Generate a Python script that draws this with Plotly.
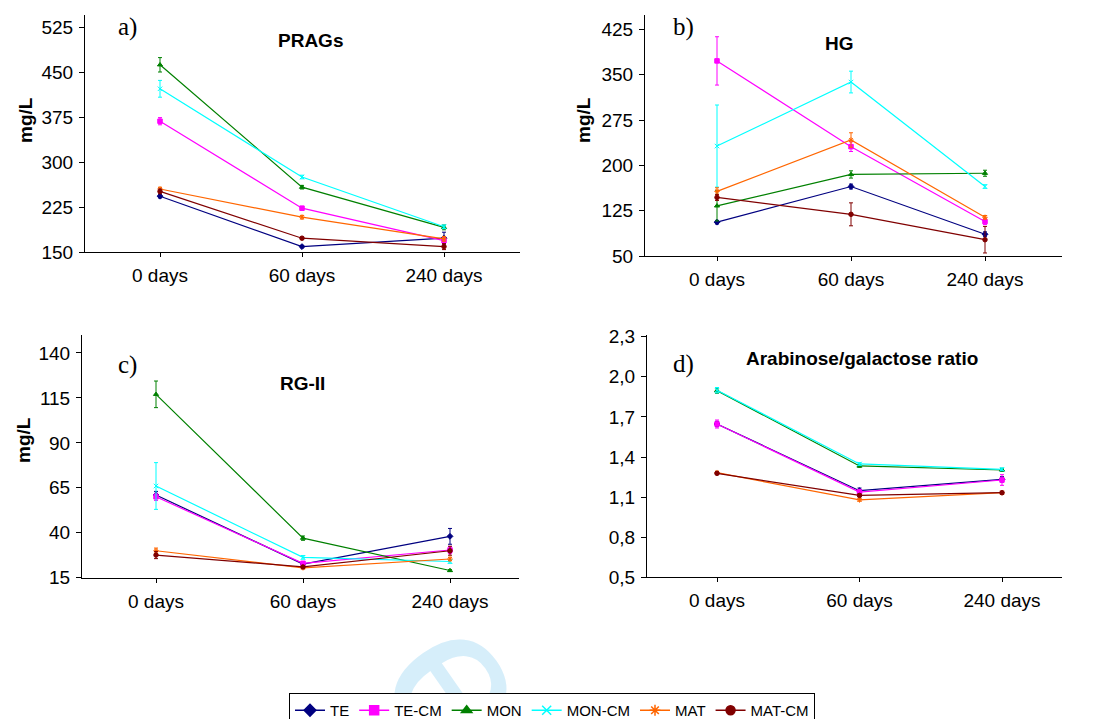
import plotly.graph_objects as go

W, H = 1094, 719
OFF = 8  # the page's body margin shifts the figure 8px right and down

categories = ["0 days", "60 days", "240 days"]
series = ["TE", "TE-CM", "MON", "MON-CM", "MAT", "MAT-CM"]

# Panel a) PRAGs (mg/L)
prags_TE = [243, 159, 173]
prags_TECM = [368, 223, 169]
prags_MON = [462, 258, 191]
prags_MONCM = [422, 275, 192]
prags_MAT = [255, 208, 172]
prags_MATCM = [251, 173, 159]
prags_err_TE = [3, 2, 10]
prags_err_TECM = [6, 3, 5]
prags_err_MON = [12, 3, 4]
prags_err_MONCM = [14, 3, 3]
prags_err_MAT = [3, 3, 4]
prags_err_MATCM = [4, 2, 5]

# Panel b) HG (mg/L)
hg_TE = [106, 165, 86]
hg_TECM = [373, 231, 107]
hg_MON = [133, 185, 187]
hg_MONCM = [232, 338, 165]
hg_MAT = [157, 242, 114]
hg_MATCM = [147, 119, 77]
hg_err_TE = [3, 4, 4]
hg_err_TECM = [40, 8, 5]
hg_err_MON = [25, 6, 5]
hg_err_MONCM = [68, 18, 3]
hg_err_MAT = [6, 12, 3]
hg_err_MATCM = [5, 19, 22]

# Panel c) RG-II (mg/L)
rg_TE = [61, 22.6, 38]
rg_TECM = [60, 23, 30.4]
rg_MON = [117, 37, 19]
rg_MONCM = [66, 26.3, 24]
rg_MAT = [30, 20.5, 25.4]
rg_MATCM = [27.6, 21, 30]
rg_err_TE = [2, 1, 4.4]
rg_err_TECM = [2, 1, 2]
rg_err_MON = [7.4, 1.2, 0.5]
rg_err_MONCM = [13, 1, 1]
rg_err_MAT = [1.5, 0.5, 1]
rg_err_MATCM = [2, 0.5, 2.5]

# Panel d) Arabinose/galactose ratio
ag_TE = [1.647, 1.148, 1.233]
ag_TECM = [1.647, 1.138, 1.228]
ag_MON = [1.897, 1.333, 1.303]
ag_MONCM = [1.90, 1.348, 1.308]
ag_MAT = [1.283, 1.079, 1.133]
ag_MATCM = [1.278, 1.113, 1.133]
ag_err_TE = [0.02, 0.02, 0.02]
ag_err_TECM = [0.03, 0.02, 0.04]
ag_err_MON = [0.02, 0.01, 0.01]
ag_err_MONCM = [0.02, 0.01, 0.01]
ag_err_MAT = [0.01, 0.01, 0.01]
ag_err_MATCM = [0.01, 0.01, 0.01]

ticks_a = [150, 225, 300, 375, 450, 525]
ticks_b = [50, 125, 200, 275, 350, 425]
ticks_c = [15, 40, 65, 90, 115, 140]
ticks_d = [0.5, 0.8, 1.1, 1.4, 1.7, 2.0, 2.3]
ticks_d_text = ["0,5", "0,8", "1,1", "1,4", "1,7", "2,0", "2,3"]

colors = ["#000080", "#FF00FF", "#008000", "#00FFFF", "#FF6600", "#800000"]
symbols = ["diamond", "square", "triangle-up", "x-thin-open", "asterisk-open", "circle"]

panels = [
    ([prags_TE, prags_TECM, prags_MON, prags_MONCM, prags_MAT, prags_MATCM],
     [prags_err_TE, prags_err_TECM, prags_err_MON, prags_err_MONCM, prags_err_MAT, prags_err_MATCM]),
    ([hg_TE, hg_TECM, hg_MON, hg_MONCM, hg_MAT, hg_MATCM],
     [hg_err_TE, hg_err_TECM, hg_err_MON, hg_err_MONCM, hg_err_MAT, hg_err_MATCM]),
    ([rg_TE, rg_TECM, rg_MON, rg_MONCM, rg_MAT, rg_MATCM],
     [rg_err_TE, rg_err_TECM, rg_err_MON, rg_err_MONCM, rg_err_MAT, rg_err_MATCM]),
    ([ag_TE, ag_TECM, ag_MON, ag_MONCM, ag_MAT, ag_MATCM],
     [ag_err_TE, ag_err_TECM, ag_err_MON, ag_err_MONCM, ag_err_MAT, ag_err_MATCM]),
]

# pixel geometry (window pixels) of each panel: x_left, x_right, y_top, y_bottom, cat0_px, cat_step_px, yrange
geom = [
    (85, 520, 15, 252, 160, 142, [150, 545]),
    (645, 1062, 15, 256, 717, 134, [50, 449]),
    (82, 519, 335, 577.7, 156, 147, [15, 150]),
    (647, 1062, 335, 577.3, 717, 142.5, [0.5, 2.313]),
]

def px(x):
    return (x - OFF) / W

def py(y):
    return 1 - (y - OFF) / H

FONT = "Liberation Sans, Arial, sans-serif"
fig = go.Figure()

for p, (vals, errs) in enumerate(panels):
    ax = "" if p == 0 else str(p + 1)
    for i, name in enumerate(series):
        fig.add_trace(go.Scatter(
            x=list(range(len(categories))), y=vals[i],
            xaxis="x" + ax, yaxis="y" + ax,
            mode="lines+markers", name=name, showlegend=False,
            line=dict(color=colors[i], width=1.2),
            marker=dict(symbol=symbols[i], size=4.5, color=colors[i],
                        line=dict(color=colors[i], width=1)),
            error_y=dict(type="data", array=errs[i], color=colors[i],
                         thickness=1, width=2),
        ))

# legend-only traces
for i, name in enumerate(series):
    fig.add_trace(go.Scatter(
        x=[None], y=[None], mode="lines+markers", name=name,
        line=dict(color=colors[i], width=1.5),
        marker=dict(symbol=symbols[i], size=9, color=colors[i],
                    line=dict(color=colors[i], width=1.5)),
    ))

yticks = [(ticks_a, [str(t) for t in ticks_a]), (ticks_b, [str(t) for t in ticks_b]),
          (ticks_c, [str(t) for t in ticks_c]), (ticks_d, ticks_d_text)]

layout = {}
for p, (xl, xr, yt, yb, c0, step, yr) in enumerate(geom):
    ax = "" if p == 0 else str(p + 1)
    xr0 = -(c0 - xl) / step
    xr1 = (xr - c0) / step
    layout["xaxis" + ax] = dict(
        domain=[px(xl), px(xr)], range=[xr0, xr1], anchor="y" + ax, automargin=False,
        tickmode="array", tickvals=list(range(len(categories))), ticktext=categories,
        showline=True, linecolor="black", linewidth=1, showgrid=False, zeroline=False,
        ticks="outside", ticklen=4, tickcolor="black", ticklabelstandoff=2,
        tickfont=dict(family=FONT, size=19, color="black"), fixedrange=True,
    )
    layout["yaxis" + ax] = dict(
        domain=[py(yb), py(yt)], range=yr, anchor="x" + ax, automargin=False,
        tickmode="array", tickvals=yticks[p][0], ticktext=yticks[p][1],
        showline=True, linecolor="black", linewidth=1, showgrid=False, zeroline=False,
        ticks="outside", ticklen=5, tickcolor="black", ticklabelstandoff=2,
        tickfont=dict(family=FONT, size=19, color="black"), fixedrange=True,
    )

annotations = []
def ann(text, x, y, size, bold=False, serif=False, angle=0, color="black"):
    annotations.append(dict(
        text=("<b>%s</b>" % text) if bold else text, x=px(x), y=py(y),
        xref="paper", yref="paper", showarrow=False, textangle=angle,
        xanchor="center", yanchor="middle",
        font=dict(family="Liberation Serif, Times New Roman, serif" if serif else FONT,
                  size=size, color=color)))

ann("a)", 127, 27, 25, serif=True)
ann("b)", 683, 27, 25, serif=True)
ann("c)", 127, 365, 25, serif=True)
ann("d)", 683, 364, 25, serif=True)
ann("PRAGs", 310, 40, 19, bold=True)
ann("HG", 839, 43, 19, bold=True)
ann("RG-II", 302, 383, 19, bold=True)
ann("Arabinose/galactose ratio", 862, 358, 19, bold=True)
ann("mg/L", 25, 120, 19, bold=True, angle=-90)
ann("mg/L", 583, 120, 19, bold=True, angle=-90)
ann("mg/L", 23, 440, 19, bold=True, angle=-90)

# faint watermark fragment, drawn beneath everything else
shapes = [dict(
    type="rect", xref="paper", yref="paper",
    x0=px(430), x1=px(530), y0=py(722), y1=py(622),
    line=dict(width=0), fillcolor="rgba(0,0,0,0)", layer="below",
    label=dict(text="e", textangle=55, textposition="middle center",
               font=dict(family=FONT, size=205, color="#D6EEFA")),
)]

fig.update_layout(
    width=W, height=H, margin=dict(l=0, r=0, t=0, b=0, autoexpand=False),
    paper_bgcolor="white", plot_bgcolor="rgba(0,0,0,0)",
    annotations=annotations, shapes=shapes,
    legend=dict(orientation="h", x=px(552), xanchor="center", y=py(693), yanchor="top",
                bordercolor="black", borderwidth=1, bgcolor="white",
                font=dict(family=FONT, size=15, color="black"),
                itemwidth=30, tracegroupgap=0),
    **layout,
)

fig.write_html("out.html")
